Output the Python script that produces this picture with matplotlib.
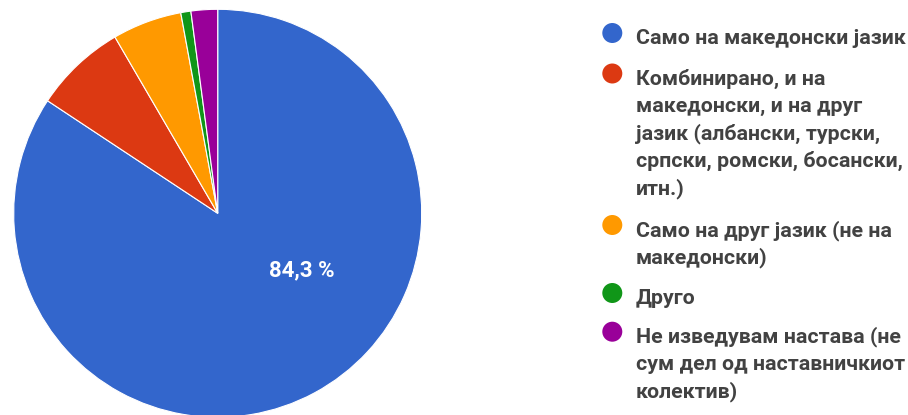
import matplotlib
matplotlib.use('Agg')
import matplotlib.pyplot as plt
from matplotlib.patches import Circle

plt.rcParams['font.family'] = ['Roboto', 'DejaVu Sans']

# answer shares, percent
categories = [
    'Само на македонски јазик',
    'Комбинирано, и на\nмакедонски, и на друг\nјазик (албански, турски,\nсрпски, ромски, босански,\nитн.)',
    'Само на друг јазик (не на\nмакедонски)',
    'Друго',
    'Не изведувам настава (не\nсум дел од наставничкиот\nколектив)',
]
values = [84.3, 7.3, 5.5, 0.8, 2.1]
colors = ['#3366cc', '#dc3912', '#ff9900', '#109618', '#990099']
text_color = '#424242'

W, H = 908, 415
fig = plt.figure(figsize=(W / 100, H / 100), dpi=100)

# pie centre (218, 213) px, radius 204 px
cx, cy, r = 217.7, 213.3, 204
ax = fig.add_axes([(cx - r) / W, (H - cy - r) / H, 2 * r / W, 2 * r / H])
ax.pie(values, colors=colors, startangle=90, counterclock=False, radius=1,
       wedgeprops=dict(edgecolor='white', linewidth=0.8))
ax.set_xlim(-1, 1)
ax.set_ylim(-1, 1)
ax.set_aspect('equal')
ax.axis('off')
ax.text(0.412, -0.278, f'{values[0]:.1f} %'.replace('.', ','), color='white',
        fontsize=16, fontweight='bold', ha='center', va='center')

# legend drawn by hand so the wrapping matches
first_baselines = [44, 84.5, 236, 304, 342.7]
pitch = 27.6
for label, col, base in zip(categories, colors, first_baselines):
    fig.patches.append(Circle((612.3, H - (base - 11)), 10, transform=None,
                              facecolor=col, edgecolor='none'))
    for i, line in enumerate(label.split('\n')):
        fig.text(636 / W, (H - (base + i * pitch)) / H, line, color=text_color,
                 fontsize=15.4, fontweight='bold', ha='left', va='baseline')

fig.savefig('out.png', dpi=100)
